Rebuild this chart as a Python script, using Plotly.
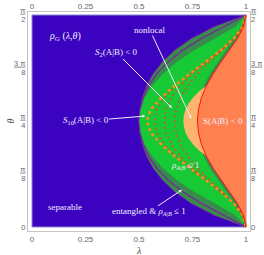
import plotly.graph_objects as go

# ---- data (theta in degrees, lambda values) ----
theta_deg = [0, 5, 10, 15, 20, 25, 30, 35, 40, 45, 50, 55, 60, 65, 70, 75, 80, 85, 90]
lam_entangled = [1.000, 0.852, 0.745, 0.667, 0.609, 0.566, 0.536, 0.516, 0.504, 0.500,
                 0.504, 0.516, 0.536, 0.566, 0.609, 0.667, 0.745, 0.852, 1.000]
lam_purple = [1.000, 0.896, 0.792, 0.704, 0.635, 0.583, 0.545, 0.520, 0.505, 0.500,
              0.505, 0.520, 0.545, 0.583, 0.635, 0.704, 0.792, 0.896, 1.000]
lam_cond_amp = [1.000, 0.950, 0.855, 0.758, 0.676, 0.611, 0.562, 0.527, 0.508, 0.501,
                0.508, 0.527, 0.562, 0.611, 0.676, 0.758, 0.855, 0.950, 1.000]
lam_strip = [1.000, 0.978, 0.945, 0.908, 0.868, 0.832, 0.802, 0.780, 0.766, 0.761,
             0.766, 0.780, 0.802, 0.832, 0.868, 0.908, 0.945, 0.978, 1.000]
lam_S = [1.000, 0.9885, 0.960, 0.9225, 0.883, 0.846, 0.815, 0.792, 0.778, 0.773,
         0.778, 0.792, 0.815, 0.846, 0.883, 0.9225, 0.960, 0.9885, 1.000]
lam_S2 = [1.000, 0.985, 0.945, 0.889, 0.829, 0.773, 0.727, 0.694, 0.673, 0.667,
          0.673, 0.694, 0.727, 0.773, 0.829, 0.889, 0.945, 0.985, 1.000]
lam_S3 = [1.000, 0.985, 0.943, 0.883, 0.815, 0.749, 0.693, 0.652, 0.626, 0.618,
          0.626, 0.652, 0.693, 0.749, 0.815, 0.883, 0.943, 0.985, 1.000]
lam_S5 = [1.000, 0.985, 0.943, 0.882, 0.811, 0.738, 0.672, 0.619, 0.584, 0.573,
          0.584, 0.619, 0.672, 0.738, 0.811, 0.882, 0.943, 0.985, 1.000]
lam_S10 = [1.000, 0.985, 0.943, 0.882, 0.810, 0.737, 0.667, 0.604, 0.556, 0.536,
           0.556, 0.604, 0.667, 0.737, 0.810, 0.882, 0.943, 0.985, 1.000]
theta_nonlocal = [30.3, 32.5, 35, 37.5, 40, 42.5, 45, 47.5, 50, 52.5, 55, 57.5, 59.7]
lam_nonlocal = [0.812, 0.780, 0.753, 0.732, 0.718, 0.710, 0.707, 0.710, 0.718, 0.732, 0.753, 0.780, 0.812]

x_ticks = [0, 0.25, 0.5, 0.75, 1]
x_ticktext = ["0", "0.25", "0.5", "0.75", "1"]
y_ticks = [0, 22.5, 45, 67.5, 90]
y_ticktext = ["0", "<u>π</u><br>8", "<u>π</u><br>4", "<u>3 π</u><br>8", "<u>π</u><br>2"]

C_BLUE = "#3b02bf"
C_DKGREEN = "#378c4c"
C_GREEN = "#17c935"
C_PEACH = "#ffb46e"
C_CORAL = "#ff8150"

fig = go.Figure()


def right_region(lams, thetas, color):
    xs = list(lams) + [1.0, 1.0]
    ys = list(thetas) + [thetas[-1], thetas[0]]
    fig.add_trace(go.Scatter(x=xs, y=ys, fill="toself", fillcolor=color, mode="lines",
                             line=dict(width=0, color=color), hoverinfo="skip", showlegend=False))


def curve(lams, thetas, color, width, dash="solid"):
    fig.add_trace(go.Scatter(x=lams, y=thetas, mode="lines",
                             line=dict(color=color, width=width, dash=dash),
                             hoverinfo="skip", showlegend=False))


# background separable region
fig.add_trace(go.Scatter(x=[0, 1, 1, 0, 0], y=[0, 0, 90, 90, 0], fill="toself", fillcolor=C_BLUE,
                         mode="lines", line=dict(color="#8d86cf", width=1), hoverinfo="skip",
                         showlegend=False))
right_region(lam_entangled, theta_deg, C_DKGREEN)
curve(lam_entangled, theta_deg, "#8a2a9a", 0.7)
curve(lam_purple, theta_deg, "#7a1fa0", 1.2)
right_region(lam_cond_amp, theta_deg, C_GREEN)
right_region(lam_strip, theta_deg, C_DKGREEN)
right_region(lam_nonlocal, theta_nonlocal, C_PEACH)
curve(lam_S2, theta_deg, "#e0482a", 1.4, "2px,3px")
curve(lam_S3, theta_deg, "#e0482a", 1.4, "2px,3px")
curve(lam_S5, theta_deg, "#e0482a", 1.4, "2px,3px")
curve(lam_S10, theta_deg, "#ff8c1a", 2.5, "3px,3px")
right_region(lam_S, theta_deg, C_CORAL)
curve(lam_S, theta_deg, "#ff1010", 1.0)

# invisible trace for mirrored axes
fig.add_trace(go.Scatter(x=[0.5], y=[45], xaxis="x2", yaxis="y2", mode="markers",
                         marker=dict(opacity=0), hoverinfo="skip", showlegend=False))

LBL = dict(family="Liberation Serif, Times New Roman, serif", size=9, color="#f2ecff")
# (label x, label y, text, font size, arrow tip x, arrow tip y)
labels = [
    (0.154, 80.7, "<i>ρ</i><sub><i>G</i></sub> (<i>λ</i>,<i>θ</i>)", 10, None, None),
    (0.397, 73.9, "<i>S</i><sub>2</sub>(A|B) &lt; 0", 9, 0.654, 50.5),
    (0.551, 83.6, "nonlocal", 9, 0.744, 46.1),
    (0.893, 45.0, "S(A|B) &lt; 0", 9, None, None),
    (0.250, 45.0, "<i>S</i><sub>10</sub>(A|B) &lt; 0", 9, 0.529, 47.1),
    (0.715, 25.9, "<i>ρ</i><sub><i>A</i>|<i>B</i></sub> ≰ 1", 9, None, None),
    (0.152, 8.5, "separable", 9, None, None),
    (0.547, 6.4, "entangled &amp; <i>ρ</i><sub><i>A</i>|<i>B</i></sub> ≤ 1", 9, 0.701, 15.8),
]
for x, y, t, s, tx, ty in labels:
    if tx is None:
        fig.add_annotation(x=x, y=y, text=t, showarrow=False, font=dict(LBL, size=s),
                           xanchor="center", yanchor="middle")
    else:
        fig.add_annotation(x=tx, y=ty, ax=x, ay=y, axref="x", ayref="y", text=t,
                           showarrow=True, arrowhead=2, arrowsize=0.6, arrowwidth=1,
                           arrowcolor="#f2ecff", font=dict(LBL, size=s), standoff=0,
                           startstandoff=0, borderpad=0)

# axis titles
TITLEF = dict(family="Liberation Serif, Times New Roman, serif", size=10, color="#444444")
fig.add_annotation(xref="paper", yref="paper", x=0.5, y=-0.055, text="<i>λ</i>",
                   showarrow=False, font=TITLEF, xanchor="center", yanchor="top")
fig.add_annotation(xref="paper", yref="paper", x=-0.081, y=0.5, text="<i>θ</i>",
                   showarrow=False, font=TITLEF, xanchor="center", yanchor="middle",
                   textangle=-90)

TICKF = dict(family="Liberation Sans, Arial, sans-serif", size=8, color="#666666")
YTICKF = dict(TICKF, size=7.5)
axis_common = dict(showgrid=False, zeroline=False, showline=True, linecolor="#c4c4c4",
                   linewidth=1, ticks="", automargin=False)
fig.update_layout(
    width=264, height=255,
    margin=dict(l=28, r=14, t=12, b=24, autoexpand=False),
    paper_bgcolor="white", plot_bgcolor="white",
    xaxis=dict(axis_common, range=[-0.0187, 1.0187], tickvals=x_ticks, ticktext=x_ticktext,
               mirror=True, tickfont=TICKF),
    yaxis=dict(axis_common, range=[-1.70, 91.27], tickvals=y_ticks, ticktext=y_ticktext,
               mirror=True, tickfont=YTICKF),
    xaxis2=dict(axis_common, range=[-0.0187, 1.0187], tickvals=x_ticks, ticktext=x_ticktext,
                overlaying="x", side="top", showline=False, tickfont=TICKF),
    yaxis2=dict(axis_common, range=[-1.70, 91.27], tickvals=y_ticks, ticktext=y_ticktext,
                overlaying="y", side="right", showline=False, tickfont=YTICKF),
)
fig.write_html("out.html", config={"displayModeBar": False},
               post_script="document.body.style.margin='0px';")
